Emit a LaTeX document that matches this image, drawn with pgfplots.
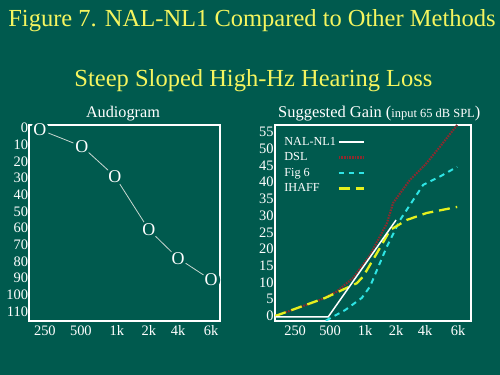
\documentclass[border=0pt]{standalone}
\usepackage{fontspec}
\setmainfont{Liberation Serif}
\usepackage{pgfplots}
\pgfplotsset{compat=1.18}
\definecolor{bg}{RGB}{0,90,78}
\definecolor{ttl}{RGB}{245,245,95}
\definecolor{dslc}{RGB}{140,42,46}
\definecolor{figc}{RGB}{46,228,228}
\definecolor{ihc}{RGB}{228,240,30}
\definecolor{audl}{RGB}{200,215,208}
\begin{document}
\begin{tikzpicture}
\fill[bg] (0bp,0bp) rectangle (500bp,375bp);
% main titles
\node[font=\fontsize{24.6}{28}\selectfont, text=ttl, anchor=base] at (252bp,348bp) {Figure 7. NAL-NL1 Compared to Other Methods};
\node[font=\fontsize{24.6}{28}\selectfont, text=ttl, anchor=base] at (253.5bp,288bp) {Steep Sloped High-Hz Hearing Loss};
% panel titles
\node[font=\fontsize{16.3}{18}\selectfont, text=white, anchor=base] at (123bp,257bp) {Audiogram};
\node[text=white, anchor=base west, inner sep=0pt] at (278bp,257bp) {\fontsize{16.5}{18}\selectfont Suggested Gain (\fontsize{12.5}{13}\selectfont input 65 dB SPL\fontsize{16.5}{18}\selectfont)};

\pgfplotsset{
  panel/.style={
    anchor=south west, scale only axis,
    major tick length=0pt,
    axis line style={white, line width=1.6bp},
    tick label style={font=\fontsize{14.5}{16}\selectfont, text=white},
    /pgf/number format/assume math mode=true,
    xticklabels={250,500,1k,2k,4k,6k},
    xticklabel style={yshift=-1bp},
    clip=true,
  }
}

\begin{axis}[panel,
  at={(29bp,54bp)}, width=191bp, height=196bp,
  xmin=-0.48, xmax=5.30,
  ymin=-1.8, ymax=115.6, y dir=reverse,
  xtick={0,1.09,2.18,3.15,4.03,5.03},
  ytick={0,10,...,110},
  yticklabel style={xshift=2.5bp},
]
\addplot[audl, line width=0.8bp, mark=text, text mark={O}, text mark as node=true,
  text mark style={font=\fontsize{18}{18}\selectfont, text=white, fill=bg, inner sep=0.2bp, circle}]
  coordinates {(-0.15,1) (1.12,11) (2.12,29) (3.15,61) (4.03,78) (5.03,91)};
\end{axis}

\begin{axis}[panel,
  at={(275bp,54bp)}, width=196bp, height=196bp,
  xmin=-0.61, xmax=5.33,
  ymin=-1.5, ymax=57.1,
  xtick={0,1.06,2.12,3.06,3.94,4.94},
  ytick={0,5,...,55},
  yticklabel style={xshift=2bp},
  legend plot pos=right, legend cell align=left,
  legend style={at={(0.04,0.945)}, anchor=north west, draw=none, fill=none,
    text=white, font=\fontsize{12.3}{13}\selectfont, inner sep=0pt, row sep=3.3bp,
    nodes={inner sep=1.3bp}},
  legend image post style={xscale=1.5},
]
\addlegendimage{white, line width=1.5bp}
\addlegendentry{NAL-NL1}
\addplot[dslc, line width=2.2bp, dash pattern=on 1.6bp off 1.1bp]
  coordinates {(-0.6,0) (0.76,4.8) (1.26,7.3) (1.76,11.4) (2.27,18.2) (2.78,27.7) (2.97,33.8) (3.48,40.7) (3.94,45.2) (4.39,50.6) (4.91,57.1)};
\addlegendentry{DSL}
\addplot[figc, line width=2bp, dash pattern=on 5.5bp off 4.5bp]
  coordinates {(0.93,-1.4) (1.52,1.8) (2.02,5.4) (2.27,8.8) (2.52,14.7) (2.78,20.7) (3.18,28.7) (3.88,39.2) (4.39,41.7) (4.91,44.6)};
\addlegendentry{Fig 6}
\addplot[ihc, line width=2.3bp, dash pattern=on 11bp off 6bp]
  coordinates {(-0.6,0) (0.91,5.4) (1.87,9.8) (2.06,11.8) (2.48,18.8) (2.88,25.7) (3.38,28.7) (3.99,30.8) (4.91,32.6)};
\addlegendentry{IHAFF}
\addplot[white, line width=1.5bp, forget plot]
  coordinates {(-0.6,-0.3) (1.0,-0.3) (3.06,28.7)};
\end{axis}
\end{tikzpicture}
\end{document}
